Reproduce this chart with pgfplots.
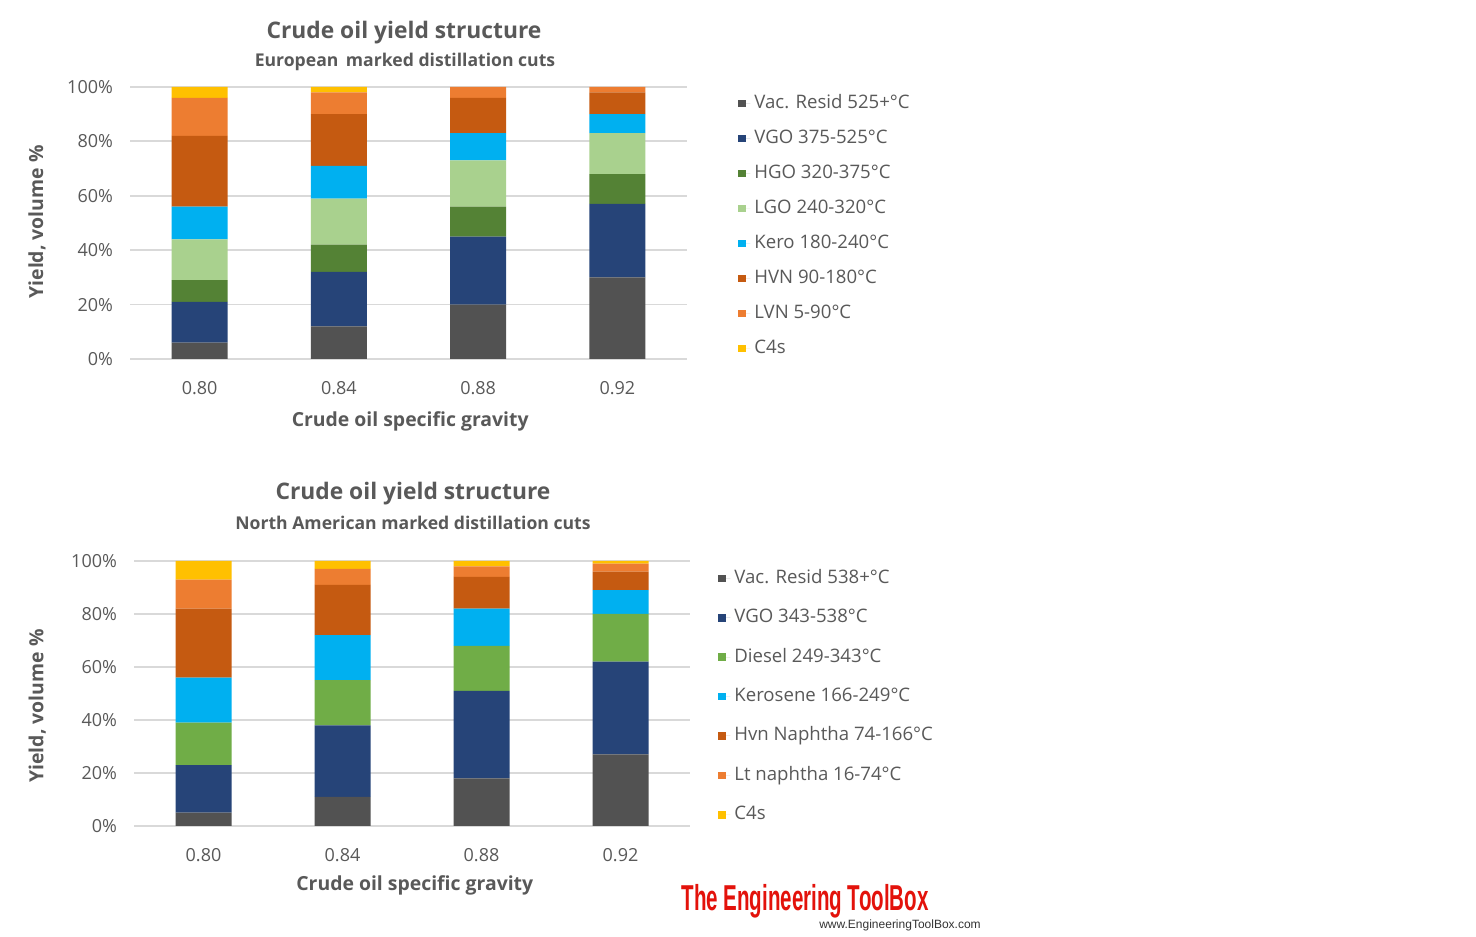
\documentclass[border=0pt]{standalone}
\usepackage{pgfplots}
\pgfplotsset{compat=1.18}
\usepackage{fontspec}
\setmainfont{Open Sans}
\newfontfamily\logofont{Liberation Sans}
\definecolor{txt}{HTML}{595959}
\definecolor{grd}{HTML}{D9D9D9}
\definecolor{cVac}{HTML}{525252}
\definecolor{cVGO}{HTML}{264478}
\definecolor{cHGO}{HTML}{548235}
\definecolor{cLGO}{HTML}{A9D18E}
\definecolor{cKero}{HTML}{00B0F0}
\definecolor{cHVN}{HTML}{C55A11}
\definecolor{cLVN}{HTML}{ED7D31}
\definecolor{cC4}{HTML}{FFC000}
\definecolor{cDsl}{HTML}{70AD47}
\definecolor{logored}{HTML}{E3120B}

\pgfplotsset{
  yieldstyle/.style={
    ybar stacked, bar width=28pt, scale only axis,
    xmin=-0.5, xmax=3.5, ymin=0, ymax=100,
    xtick=data, xticklabels={0.80,0.84,0.88,0.92},
    ytick={0,20,...,100},
    yticklabel={\pgfmathprintnumber{\tick}\%},
    /pgf/number format/assume math mode=true,
    axis line style={draw=none},
    major tick length=0pt,
    ymajorgrids, grid style={grd, line width=0.9pt},
    tick label style={font=\fontsize{9}{10}\selectfont, text=txt},
    xticklabel style={yshift=-7.5pt},
    yticklabel style={xshift=-5pt},
    label style={font=\fontsize{9.7}{12}\selectfont\bfseries, text=txt},
    legend cell align=left,
    legend style={draw=none, fill=none, font=\fontsize{9.3}{10}\selectfont, text=txt,
      anchor=north west, nodes={text depth=2pt, text height=7pt}},
    legend image code/.code={\fill[##1,draw=none] (0pt,-1.9pt) rectangle (3.8pt,1.9pt);
      \path (0pt,0pt) -- (6pt,0pt);},
    every axis plot/.append style={draw=none},
  }
}

\begin{document}
\begin{tikzpicture}[x=0.5pt,y=0.5pt]
\fill[white] (0,0) rectangle (1476,936);
\path[use as bounding box] (0,0) rectangle (1476,936);

% ---------------- Top chart ----------------
\node[text=txt, font=\fontsize{11.4}{13}\selectfont\bfseries] at (404,936-33) {Crude oil yield structure};
\node[text=txt, font=\fontsize{8.8}{10}\selectfont\bfseries] at (405,936-62) {European\, marked distillation cuts};
\begin{axis}[yieldstyle,
  at={(65pt,288.5pt)}, anchor=south west,
  width=278.5pt, height=136pt,
  xlabel={Crude oil specific gravity},
  ylabel={Yield, volume \%},
  xlabel style={at={(axis description cs:0.503,-0.228)}, anchor=center},
  ylabel style={at={(axis description cs:-0.167,0.504)}, anchor=center},
  legend style={at={(1,1)}, xshift=22.5pt, yshift=0.5pt, row sep=4.5pt},
]
\addplot[fill=cVac] coordinates {(0,6) (1,12) (2,20) (3,30)};
\addlegendentry{Vac. Resid 525+°C}
\addplot[fill=cVGO] coordinates {(0,15) (1,20) (2,25) (3,27)};
\addlegendentry{VGO 375-525°C}
\addplot[fill=cHGO] coordinates {(0,8) (1,10) (2,11) (3,11)};
\addlegendentry{HGO 320-375°C}
\addplot[fill=cLGO] coordinates {(0,15) (1,17) (2,17) (3,15)};
\addlegendentry{LGO 240-320°C}
\addplot[fill=cKero] coordinates {(0,12) (1,12) (2,10) (3,7)};
\addlegendentry{Kero 180-240°C}
\addplot[fill=cHVN] coordinates {(0,26) (1,19) (2,13) (3,8)};
\addlegendentry{HVN 90-180°C}
\addplot[fill=cLVN] coordinates {(0,14) (1,8) (2,4) (3,2)};
\addlegendentry{LVN 5-90°C}
\addplot[fill=cC4] coordinates {(0,4) (1,2) (2,0) (3,0)};
\addlegendentry{C4s}
\end{axis}

% ---------------- Bottom chart ----------------
\node[text=txt, font=\fontsize{11.4}{13}\selectfont\bfseries] at (413,936-494) {Crude oil yield structure};
\node[text=txt, font=\fontsize{8.8}{10}\selectfont\bfseries] at (413,936-523) {North American marked distillation cuts};
\begin{axis}[yieldstyle,
  at={(67pt,55pt)}, anchor=south west,
  width=278pt, height=132.5pt,
  xlabel={Crude oil specific gravity},
  ylabel={Yield, volume \%},
  xlabel style={at={(axis description cs:0.505,-0.226)}, anchor=center},
  ylabel style={at={(axis description cs:-0.174,0.453)}, anchor=center},
  legend style={at={(1,1)}, xshift=11pt, yshift=0pt, row sep=6.7pt},
]
\addplot[fill=cVac] coordinates {(0,5) (1,11) (2,18) (3,27)};
\addlegendentry{Vac. Resid 538+°C}
\addplot[fill=cVGO] coordinates {(0,18) (1,27) (2,33) (3,35)};
\addlegendentry{VGO 343-538°C}
\addplot[fill=cDsl] coordinates {(0,16) (1,17) (2,17) (3,18)};
\addlegendentry{Diesel 249-343°C}
\addplot[fill=cKero] coordinates {(0,17) (1,17) (2,14) (3,9)};
\addlegendentry{Kerosene 166-249°C}
\addplot[fill=cHVN] coordinates {(0,26) (1,19) (2,12) (3,7)};
\addlegendentry{Hvn Naphtha 74-166°C}
\addplot[fill=cLVN] coordinates {(0,11) (1,6) (2,4) (3,3)};
\addlegendentry{Lt naphtha 16-74°C}
\addplot[fill=cC4] coordinates {(0,7) (1,3) (2,2) (3,1)};
\addlegendentry{C4s}
\end{axis}

% ---------------- Logo ----------------
\node[text=logored, font=\logofont\fontsize{18}{20}\selectfont\bfseries, xscale=0.57] at (805,936-901) {The Engineering ToolBox};
\node[text=black!80, font=\logofont\fontsize{6}{7}\selectfont] at (900,936-925) {www.EngineeringToolBox.com};
\end{tikzpicture}
\end{document}
